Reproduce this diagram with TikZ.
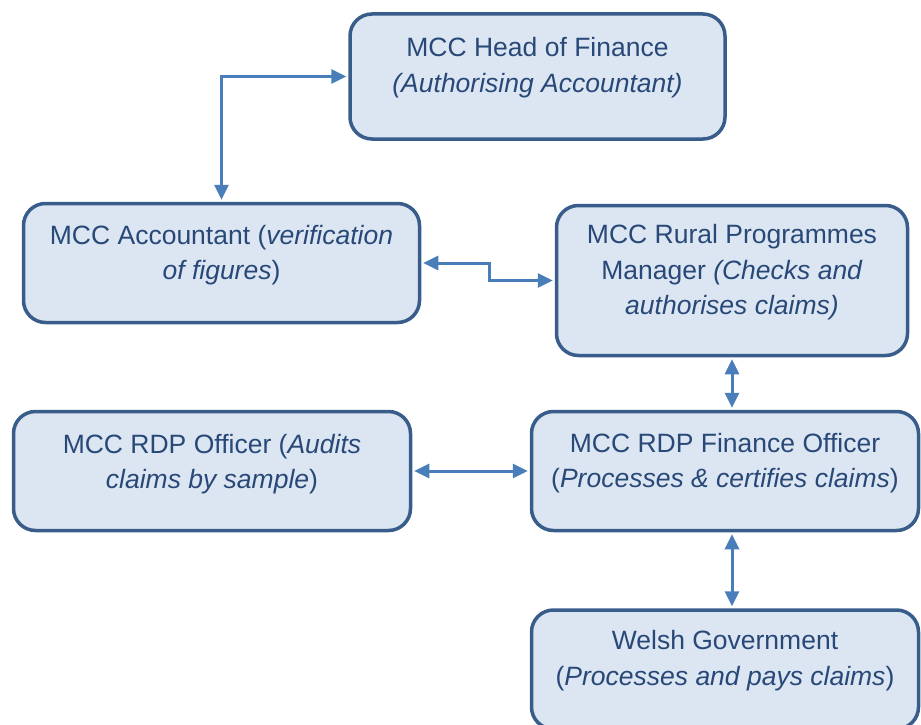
\documentclass[tikz,border=0pt]{standalone}
\usepackage{fontspec}
\setmainfont{Liberation Sans}
\usetikzlibrary{arrows.meta}

\definecolor{boxfill}{HTML}{DCE6F2}
\definecolor{boxline}{HTML}{385D8A}
\definecolor{boxtext}{HTML}{284878}
\definecolor{linkcol}{HTML}{4A7EBB}

\begin{document}
\begin{tikzpicture}[x=1pt,y=-1pt,
        >={Triangle[length=15pt,width=14pt]},
        box/.style={draw=boxline,fill=boxfill,line width=3.5pt,
                    rounded corners=22pt,inner sep=0pt},
        txt/.style={text=boxtext,align=center,inner sep=0pt,
                    font=\fontsize{26.5}{35.5}\selectfont},
        link/.style={<->,draw=linkcol,line width=3pt,
                     shorten >=2pt,shorten <=2pt}]

  \useasboundingbox (0,0) rectangle (921,725);

  % boxes
  \node[box,minimum width=375pt,minimum height=125pt] (hof) at (537.5,76.5) {};
  \node[box,minimum width=396pt,minimum height=119pt] (acc) at (221.5,263) {};
  \node[box,minimum width=351pt,minimum height=150pt] (rpm) at (732,280.5) {};
  \node[box,minimum width=397pt,minimum height=119pt] (rdp) at (212,471) {};
  \node[box,minimum width=387pt,minimum height=119pt] (rfo) at (725,471) {};
  \node[box,minimum width=387pt,minimum height=119pt] (wg) at (725,669.5) {};

  % box texts
  \node[txt] (hoft) at ([yshift=9pt]hof.center)
    {MCC Head of Finance\\\textit{(Authorising Accountant)}};
  \node[txt] (acct) at ([yshift=8pt]acc.center)
    {MCC Accountant (\textit{verification}\\\textit{of figures})};
  \node[txt] (rpmt) at ([yshift=8pt]rpm.center)
    {MCC Rural Programmes\\Manager \textit{(Checks and}\\\textit{authorises claims)}};
  \node[txt] (rdpt) at ([yshift=7pt]rdp.center)
    {MCC RDP Officer (\textit{Audits}\\\textit{claims by sample})};
  \node[txt] (rfot) at ([yshift=8pt]rfo.center)
    {MCC RDP Finance Officer\\(\textit{Processes \& certifies claims})};
  \node[txt] (wgt) at ([yshift=9pt]wg.center)
    {Welsh Government\\(\textit{Processes and pays claims})};

  % connectors
  \draw[link] (acc.north) |- (hof.west);
  \draw[link] (acc.east) -- ++(68,0) |- (rpm.west);
  \draw[link] (rpm.south) -- (rpm.south |- rfo.north);
  \draw[link] (rdp.east) -- (rfo.west);
  \draw[link] (rpm.south |- rfo.south) -- (rpm.south |- wg.north);

\end{tikzpicture}
\end{document}
